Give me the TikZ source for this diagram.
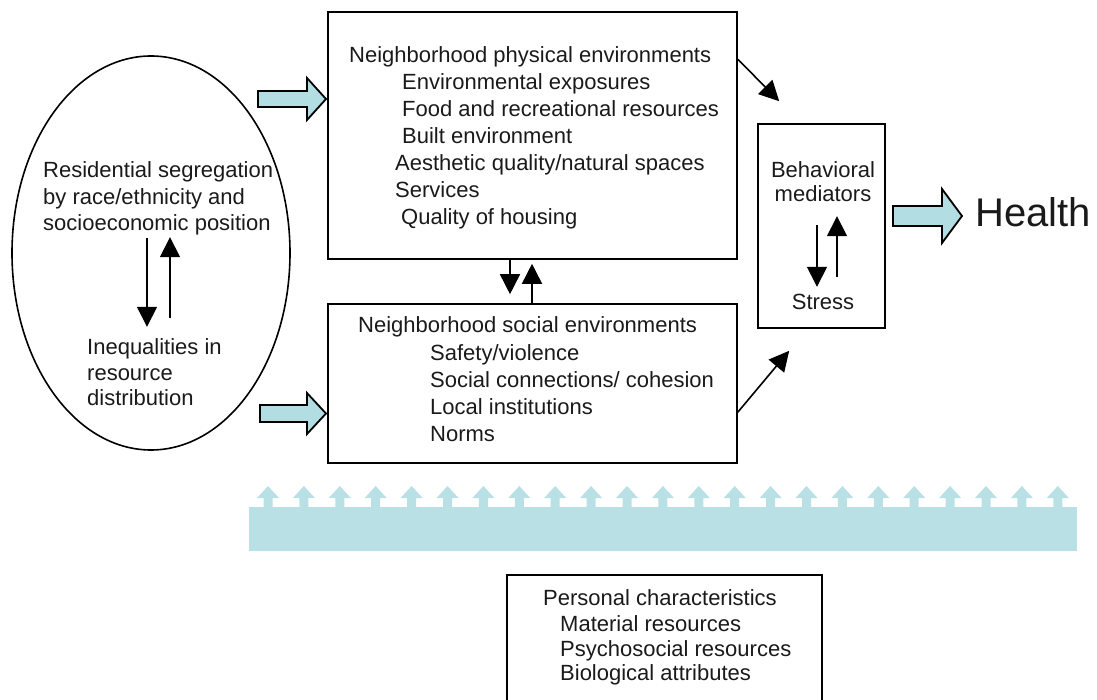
\documentclass[tikz,border=0pt]{standalone}
\usepackage{fontspec}
\setmainfont{Liberation Sans}
\usetikzlibrary{arrows.meta,shapes.geometric,calc}
\definecolor{arrowfill}{HTML}{B2DDE2}
\definecolor{bandfill}{HTML}{B9E0E5}
\definecolor{txtcol}{HTML}{1A1A1A}
\begin{document}
\begin{tikzpicture}[x=1pt,y=-1pt,
  box/.style={draw=black,line width=1.6pt,inner sep=0pt},
  txt/.style={font=\fontsize{22}{26}\selectfont,text=txtcol,inner sep=0pt,anchor=base west,text height=16pt,text depth=5pt},
  ctxt/.style={txt,anchor=base},
  arr/.style={line width=1.6pt,-{Triangle[length=20pt,width=20pt]}},
  blockarr/.style={draw=black,line width=1.8pt,fill=arrowfill,line join=miter},
  band/.style={fill=bandfill,draw=none}]
\useasboundingbox (0,0) rectangle (1097,700);
\clip (0,0) rectangle (1097,700);

% ellipse
\node[box,ellipse,minimum width=278pt,minimum height=394pt] (seg) at (151,253) {};
\node[txt] (seg1) at (43,178) {Residential segregation};
\node[txt] (seg2) at (43,205) {by race/ethnicity and};
\node[txt] (seg3) at (43,231) {socioeconomic position};
\node[txt] (ineq1) at (87,355) {Inequalities in};
\node[txt] (ineq2) at (87,380) {resource};
\node[txt] (ineq3) at (87,405) {distribution};
\coordinate (xd) at (147,0);
\coordinate (xu) at (170,0);
\draw[arr,shorten <=2pt,shorten >=12pt] (xd |- seg3.south) -- (xd |- ineq1.north);
\draw[arr,shorten <=21pt,shorten >=1pt] (xu |- ineq1.north) -- (xu |- seg3.south);

% physical box
\node[box,minimum width=409pt,minimum height=247pt] (phys) at (532.5,135.5) {};
\node[txt] (p0) at (349,63) {Neighborhood physical environments};
\node[txt] (p1) at (402,90) {Environmental exposures};
\node[txt] (p2) at (402,117) {Food and recreational resources};
\node[txt] (p3) at (402,144) {Built environment};
\node[txt] (p4) at (395,171) {Aesthetic quality/natural spaces};
\node[txt] (p5) at (395,198) {Services};
\node[txt] (p6) at (401,225) {Quality of housing};

% social box
\node[box,minimum width=409pt,minimum height=159pt] (soc) at (532.5,383.5) {};
\node[txt] (s0) at (358,333) {Neighborhood social environments};
\node[txt] (s1) at (430,360) {Safety/violence};
\node[txt] (s2) at (430,387) {Social connections/ cohesion};
\node[txt] (s3) at (430,414) {Local institutions};
\node[txt] (s4) at (430,441) {Norms};

% arrows between physical and social
\coordinate (xb1) at (510,0);
\coordinate (xb2) at (532,0);
\draw[arr,shorten >=9pt] (xb1 |- phys.south) -- (xb1 |- soc.north);
\draw[arr,shorten >=4pt] (xb2 |- soc.north) -- (xb2 |- phys.south);

% behavioral box
\node[box,minimum width=127pt,minimum height=204pt] (beh) at (821.5,226) {};
\node[ctxt] (b1) at (823,178) {Behavioral};
\node[ctxt] (b2) at (823,202) {mediators};
\node[ctxt] (b3) at (823,310) {Stress};
\coordinate (xm1) at (817,0);
\coordinate (xm2) at (837,0);
\draw[arr,shorten <=18pt,shorten >=7pt] (xm1 |- b2.south) -- (xm1 |- b3.north);
\draw[arr,shorten <=17pt,shorten >=9pt] (xm2 |- b3.north) -- (xm2 |- b2.south);

% diagonal arrows
\draw[arr] ([yshift=-48pt]phys.north east) -- ($(beh.north west)+(22,-22)$);
\draw[arr] ([yshift=-109pt]soc.north east) -- ($(beh.south west)+(32,22)$);

% block arrows
\draw[blockarr] (258,91) -- (307,91) -- (307,78) -- (326,99) -- (307,120) -- (307,107) -- (258,107) -- cycle;
\draw[blockarr] (260,405) -- (307,405) -- (307,393) -- (326,413.5) -- (307,434) -- (307,422) -- (260,422) -- cycle;
\draw[blockarr] (893,206) -- (942,206) -- (942,189) -- (962,216) -- (942,243) -- (942,226) -- (893,226) -- cycle;
\node[font=\fontsize{40}{44}\selectfont,text=txtcol,inner sep=0pt,anchor=base west] (health) at (975,227) {Health};

% band with small arrows
\fill[band] (249,507) rectangle (1077,551);
\foreach \i in {0,...,22}{
  \pgfmathsetmacro{\xx}{268+35.9*\i}
  \fill[band] (\xx-4.5,508) -- (\xx-4.5,498) -- (\xx-11,498) -- (\xx,486) -- (\xx+11,498) -- (\xx+4.5,498) -- (\xx+4.5,508) -- cycle;
}

% personal characteristics
\node[box,minimum width=315pt,minimum height=150pt] (pers) at (664.5,650) {};
\node[txt] (c0) at (543,605) {Personal characteristics};
\node[txt] (c1) at (560,631) {Material resources};
\node[txt] (c2) at (560,656) {Psychosocial resources};
\node[txt] (c3) at (560,680) {Biological attributes};
\end{tikzpicture}
\end{document}
